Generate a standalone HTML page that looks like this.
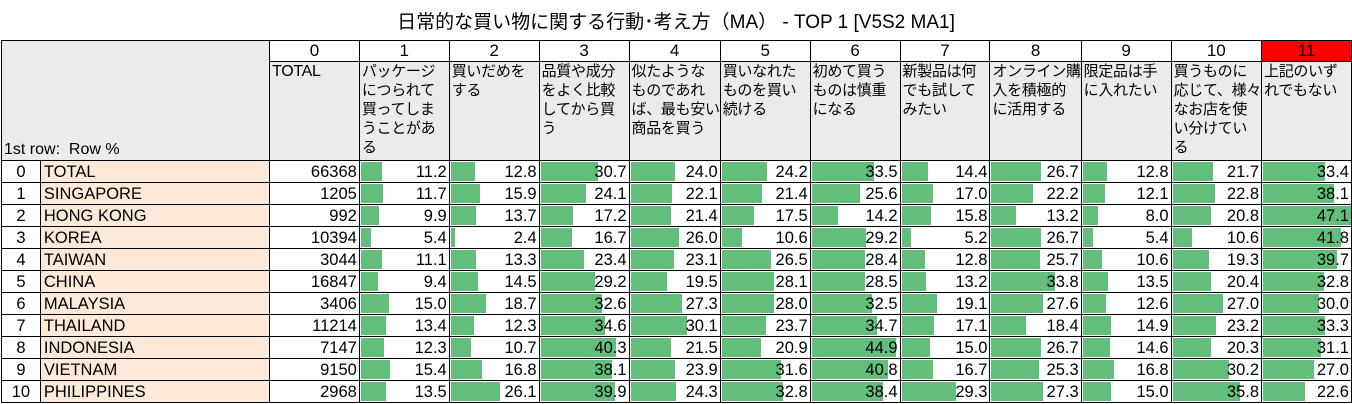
<!DOCTYPE html>
<html><head><meta charset="utf-8"><style>
body{margin:0;width:1352px;height:404px;background:#fff;font-family:"Liberation Sans","Noto Sans CJK JP",sans-serif;overflow:hidden;position:relative}
.t{position:absolute;top:7px;left:0;width:1352px;text-align:center;font-size:19px;color:#000}
table{position:absolute;left:1px;top:40px;border-collapse:collapse;table-layout:fixed;font-size:16.5px}
td{border:1px solid #000;padding:0;overflow:hidden;white-space:nowrap;line-height:20px}
tr.n td{height:20px;text-align:center;background:#fff;font-size:17px}
tr.h td{height:98px;vertical-align:top;background:#ebebeb;font-size:15px;line-height:19px;padding-left:2px;letter-spacing:-0.3px}
tr.d td{height:21px;position:relative;text-align:right;padding-right:2px}
tr.d td.i{text-align:center;padding:0}
tr.d td.nm{text-align:left;background:#fde9d9;padding-left:3px}
tr.d td i{position:absolute;left:1px;top:1px;bottom:1px;background:#63be7b}
tr.d td span{position:relative}
td.c{background:#ebebeb!important;vertical-align:bottom!important;padding-left:2px;font-size:16px!important}
</style></head><body>
<div class="t">日常的な買い物に関する行動･考え方（MA） - TOP 1 [V5S2 MA1]</div>
<table>
<colgroup><col style="width:39px"><col style="width:230px"><col style="width:90px"><col style="width:90px"><col style="width:90px"><col style="width:90px"><col style="width:90px"><col style="width:90px"><col style="width:90px"><col style="width:90px"><col style="width:90px"><col style="width:90px"><col style="width:90px"><col style="width:90px"></colgroup>
<tr class="n"><td colspan="2" rowspan="2" class="c" style="text-align:left">1st row:&nbsp; Row %</td><td>0</td><td>1</td><td>2</td><td>3</td><td>4</td><td>5</td><td>6</td><td>7</td><td>8</td><td>9</td><td>10</td><td style="background:#f00">11</td></tr>
<tr class="h"><td style="font-size:16px">TOTAL</td><td>パッケージ<br>につられて<br>買ってしま<br>うことがあ<br>る</td><td>買いだめを<br>する</td><td>品質や成分<br>をよく比較<br>してから買<br>う</td><td>似たような<br>ものであれ<br>ば、最も安い<br>商品を買う</td><td>買いなれた<br>ものを買い<br>続ける</td><td>初めて買う<br>ものは慎重<br>になる</td><td>新製品は何<br>でも試して<br>みたい</td><td>オンライン購<br>入を積極的<br>に活用する</td><td>限定品は手<br>に入れたい</td><td>買うものに<br>応じて、様々<br>なお店を使<br>い分けてい<br>る</td><td>上記のいず<br>れでもない</td></tr>
<tr class="d"><td class="i">0</td><td class="nm">TOTAL</td><td>66368</td><td><i style="width:calc(11.2px*1.87)"></i><span>11.2</span></td><td><i style="width:calc(12.8px*1.87)"></i><span>12.8</span></td><td><i style="width:calc(30.7px*1.87)"></i><span>30.7</span></td><td><i style="width:calc(24.0px*1.87)"></i><span>24.0</span></td><td><i style="width:calc(24.2px*1.87)"></i><span>24.2</span></td><td><i style="width:calc(33.5px*1.87)"></i><span>33.5</span></td><td><i style="width:calc(14.4px*1.87)"></i><span>14.4</span></td><td><i style="width:calc(26.7px*1.87)"></i><span>26.7</span></td><td><i style="width:calc(12.8px*1.87)"></i><span>12.8</span></td><td><i style="width:calc(21.7px*1.87)"></i><span>21.7</span></td><td><i style="width:calc(33.4px*1.87)"></i><span>33.4</span></td></tr>
<tr class="d"><td class="i">1</td><td class="nm">SINGAPORE</td><td>1205</td><td><i style="width:calc(11.7px*1.87)"></i><span>11.7</span></td><td><i style="width:calc(15.9px*1.87)"></i><span>15.9</span></td><td><i style="width:calc(24.1px*1.87)"></i><span>24.1</span></td><td><i style="width:calc(22.1px*1.87)"></i><span>22.1</span></td><td><i style="width:calc(21.4px*1.87)"></i><span>21.4</span></td><td><i style="width:calc(25.6px*1.87)"></i><span>25.6</span></td><td><i style="width:calc(17.0px*1.87)"></i><span>17.0</span></td><td><i style="width:calc(22.2px*1.87)"></i><span>22.2</span></td><td><i style="width:calc(12.1px*1.87)"></i><span>12.1</span></td><td><i style="width:calc(22.8px*1.87)"></i><span>22.8</span></td><td><i style="width:calc(38.1px*1.87)"></i><span>38.1</span></td></tr>
<tr class="d"><td class="i">2</td><td class="nm">HONG KONG</td><td>992</td><td><i style="width:calc(9.9px*1.87)"></i><span>9.9</span></td><td><i style="width:calc(13.7px*1.87)"></i><span>13.7</span></td><td><i style="width:calc(17.2px*1.87)"></i><span>17.2</span></td><td><i style="width:calc(21.4px*1.87)"></i><span>21.4</span></td><td><i style="width:calc(17.5px*1.87)"></i><span>17.5</span></td><td><i style="width:calc(14.2px*1.87)"></i><span>14.2</span></td><td><i style="width:calc(15.8px*1.87)"></i><span>15.8</span></td><td><i style="width:calc(13.2px*1.87)"></i><span>13.2</span></td><td><i style="width:calc(8.0px*1.87)"></i><span>8.0</span></td><td><i style="width:calc(20.8px*1.87)"></i><span>20.8</span></td><td><i style="width:calc(47.1px*1.87)"></i><span>47.1</span></td></tr>
<tr class="d"><td class="i">3</td><td class="nm">KOREA</td><td>10394</td><td><i style="width:calc(5.4px*1.87)"></i><span>5.4</span></td><td><i style="width:calc(2.4px*1.87)"></i><span>2.4</span></td><td><i style="width:calc(16.7px*1.87)"></i><span>16.7</span></td><td><i style="width:calc(26.0px*1.87)"></i><span>26.0</span></td><td><i style="width:calc(10.6px*1.87)"></i><span>10.6</span></td><td><i style="width:calc(29.2px*1.87)"></i><span>29.2</span></td><td><i style="width:calc(5.2px*1.87)"></i><span>5.2</span></td><td><i style="width:calc(26.7px*1.87)"></i><span>26.7</span></td><td><i style="width:calc(5.4px*1.87)"></i><span>5.4</span></td><td><i style="width:calc(10.6px*1.87)"></i><span>10.6</span></td><td><i style="width:calc(41.8px*1.87)"></i><span>41.8</span></td></tr>
<tr class="d"><td class="i">4</td><td class="nm">TAIWAN</td><td>3044</td><td><i style="width:calc(11.1px*1.87)"></i><span>11.1</span></td><td><i style="width:calc(13.3px*1.87)"></i><span>13.3</span></td><td><i style="width:calc(23.4px*1.87)"></i><span>23.4</span></td><td><i style="width:calc(23.1px*1.87)"></i><span>23.1</span></td><td><i style="width:calc(26.5px*1.87)"></i><span>26.5</span></td><td><i style="width:calc(28.4px*1.87)"></i><span>28.4</span></td><td><i style="width:calc(12.8px*1.87)"></i><span>12.8</span></td><td><i style="width:calc(25.7px*1.87)"></i><span>25.7</span></td><td><i style="width:calc(10.6px*1.87)"></i><span>10.6</span></td><td><i style="width:calc(19.3px*1.87)"></i><span>19.3</span></td><td><i style="width:calc(39.7px*1.87)"></i><span>39.7</span></td></tr>
<tr class="d"><td class="i">5</td><td class="nm">CHINA</td><td>16847</td><td><i style="width:calc(9.4px*1.87)"></i><span>9.4</span></td><td><i style="width:calc(14.5px*1.87)"></i><span>14.5</span></td><td><i style="width:calc(29.2px*1.87)"></i><span>29.2</span></td><td><i style="width:calc(19.5px*1.87)"></i><span>19.5</span></td><td><i style="width:calc(28.1px*1.87)"></i><span>28.1</span></td><td><i style="width:calc(28.5px*1.87)"></i><span>28.5</span></td><td><i style="width:calc(13.2px*1.87)"></i><span>13.2</span></td><td><i style="width:calc(33.8px*1.87)"></i><span>33.8</span></td><td><i style="width:calc(13.5px*1.87)"></i><span>13.5</span></td><td><i style="width:calc(20.4px*1.87)"></i><span>20.4</span></td><td><i style="width:calc(32.8px*1.87)"></i><span>32.8</span></td></tr>
<tr class="d"><td class="i">6</td><td class="nm">MALAYSIA</td><td>3406</td><td><i style="width:calc(15.0px*1.87)"></i><span>15.0</span></td><td><i style="width:calc(18.7px*1.87)"></i><span>18.7</span></td><td><i style="width:calc(32.6px*1.87)"></i><span>32.6</span></td><td><i style="width:calc(27.3px*1.87)"></i><span>27.3</span></td><td><i style="width:calc(28.0px*1.87)"></i><span>28.0</span></td><td><i style="width:calc(32.5px*1.87)"></i><span>32.5</span></td><td><i style="width:calc(19.1px*1.87)"></i><span>19.1</span></td><td><i style="width:calc(27.6px*1.87)"></i><span>27.6</span></td><td><i style="width:calc(12.6px*1.87)"></i><span>12.6</span></td><td><i style="width:calc(27.0px*1.87)"></i><span>27.0</span></td><td><i style="width:calc(30.0px*1.87)"></i><span>30.0</span></td></tr>
<tr class="d"><td class="i">7</td><td class="nm">THAILAND</td><td>11214</td><td><i style="width:calc(13.4px*1.87)"></i><span>13.4</span></td><td><i style="width:calc(12.3px*1.87)"></i><span>12.3</span></td><td><i style="width:calc(34.6px*1.87)"></i><span>34.6</span></td><td><i style="width:calc(30.1px*1.87)"></i><span>30.1</span></td><td><i style="width:calc(23.7px*1.87)"></i><span>23.7</span></td><td><i style="width:calc(34.7px*1.87)"></i><span>34.7</span></td><td><i style="width:calc(17.1px*1.87)"></i><span>17.1</span></td><td><i style="width:calc(18.4px*1.87)"></i><span>18.4</span></td><td><i style="width:calc(14.9px*1.87)"></i><span>14.9</span></td><td><i style="width:calc(23.2px*1.87)"></i><span>23.2</span></td><td><i style="width:calc(33.3px*1.87)"></i><span>33.3</span></td></tr>
<tr class="d"><td class="i">8</td><td class="nm">INDONESIA</td><td>7147</td><td><i style="width:calc(12.3px*1.87)"></i><span>12.3</span></td><td><i style="width:calc(10.7px*1.87)"></i><span>10.7</span></td><td><i style="width:calc(40.3px*1.87)"></i><span>40.3</span></td><td><i style="width:calc(21.5px*1.87)"></i><span>21.5</span></td><td><i style="width:calc(20.9px*1.87)"></i><span>20.9</span></td><td><i style="width:calc(44.9px*1.87)"></i><span>44.9</span></td><td><i style="width:calc(15.0px*1.87)"></i><span>15.0</span></td><td><i style="width:calc(26.7px*1.87)"></i><span>26.7</span></td><td><i style="width:calc(14.6px*1.87)"></i><span>14.6</span></td><td><i style="width:calc(20.3px*1.87)"></i><span>20.3</span></td><td><i style="width:calc(31.1px*1.87)"></i><span>31.1</span></td></tr>
<tr class="d"><td class="i">9</td><td class="nm">VIETNAM</td><td>9150</td><td><i style="width:calc(15.4px*1.87)"></i><span>15.4</span></td><td><i style="width:calc(16.8px*1.87)"></i><span>16.8</span></td><td><i style="width:calc(38.1px*1.87)"></i><span>38.1</span></td><td><i style="width:calc(23.9px*1.87)"></i><span>23.9</span></td><td><i style="width:calc(31.6px*1.87)"></i><span>31.6</span></td><td><i style="width:calc(40.8px*1.87)"></i><span>40.8</span></td><td><i style="width:calc(16.7px*1.87)"></i><span>16.7</span></td><td><i style="width:calc(25.3px*1.87)"></i><span>25.3</span></td><td><i style="width:calc(16.8px*1.87)"></i><span>16.8</span></td><td><i style="width:calc(30.2px*1.87)"></i><span>30.2</span></td><td><i style="width:calc(27.0px*1.87)"></i><span>27.0</span></td></tr>
<tr class="d"><td class="i">10</td><td class="nm">PHILIPPINES</td><td>2968</td><td><i style="width:calc(13.5px*1.87)"></i><span>13.5</span></td><td><i style="width:calc(26.1px*1.87)"></i><span>26.1</span></td><td><i style="width:calc(39.9px*1.87)"></i><span>39.9</span></td><td><i style="width:calc(24.3px*1.87)"></i><span>24.3</span></td><td><i style="width:calc(32.8px*1.87)"></i><span>32.8</span></td><td><i style="width:calc(38.4px*1.87)"></i><span>38.4</span></td><td><i style="width:calc(29.3px*1.87)"></i><span>29.3</span></td><td><i style="width:calc(27.3px*1.87)"></i><span>27.3</span></td><td><i style="width:calc(15.0px*1.87)"></i><span>15.0</span></td><td><i style="width:calc(35.8px*1.87)"></i><span>35.8</span></td><td><i style="width:calc(22.6px*1.87)"></i><span>22.6</span></td></tr>
</table>
</body></html>
